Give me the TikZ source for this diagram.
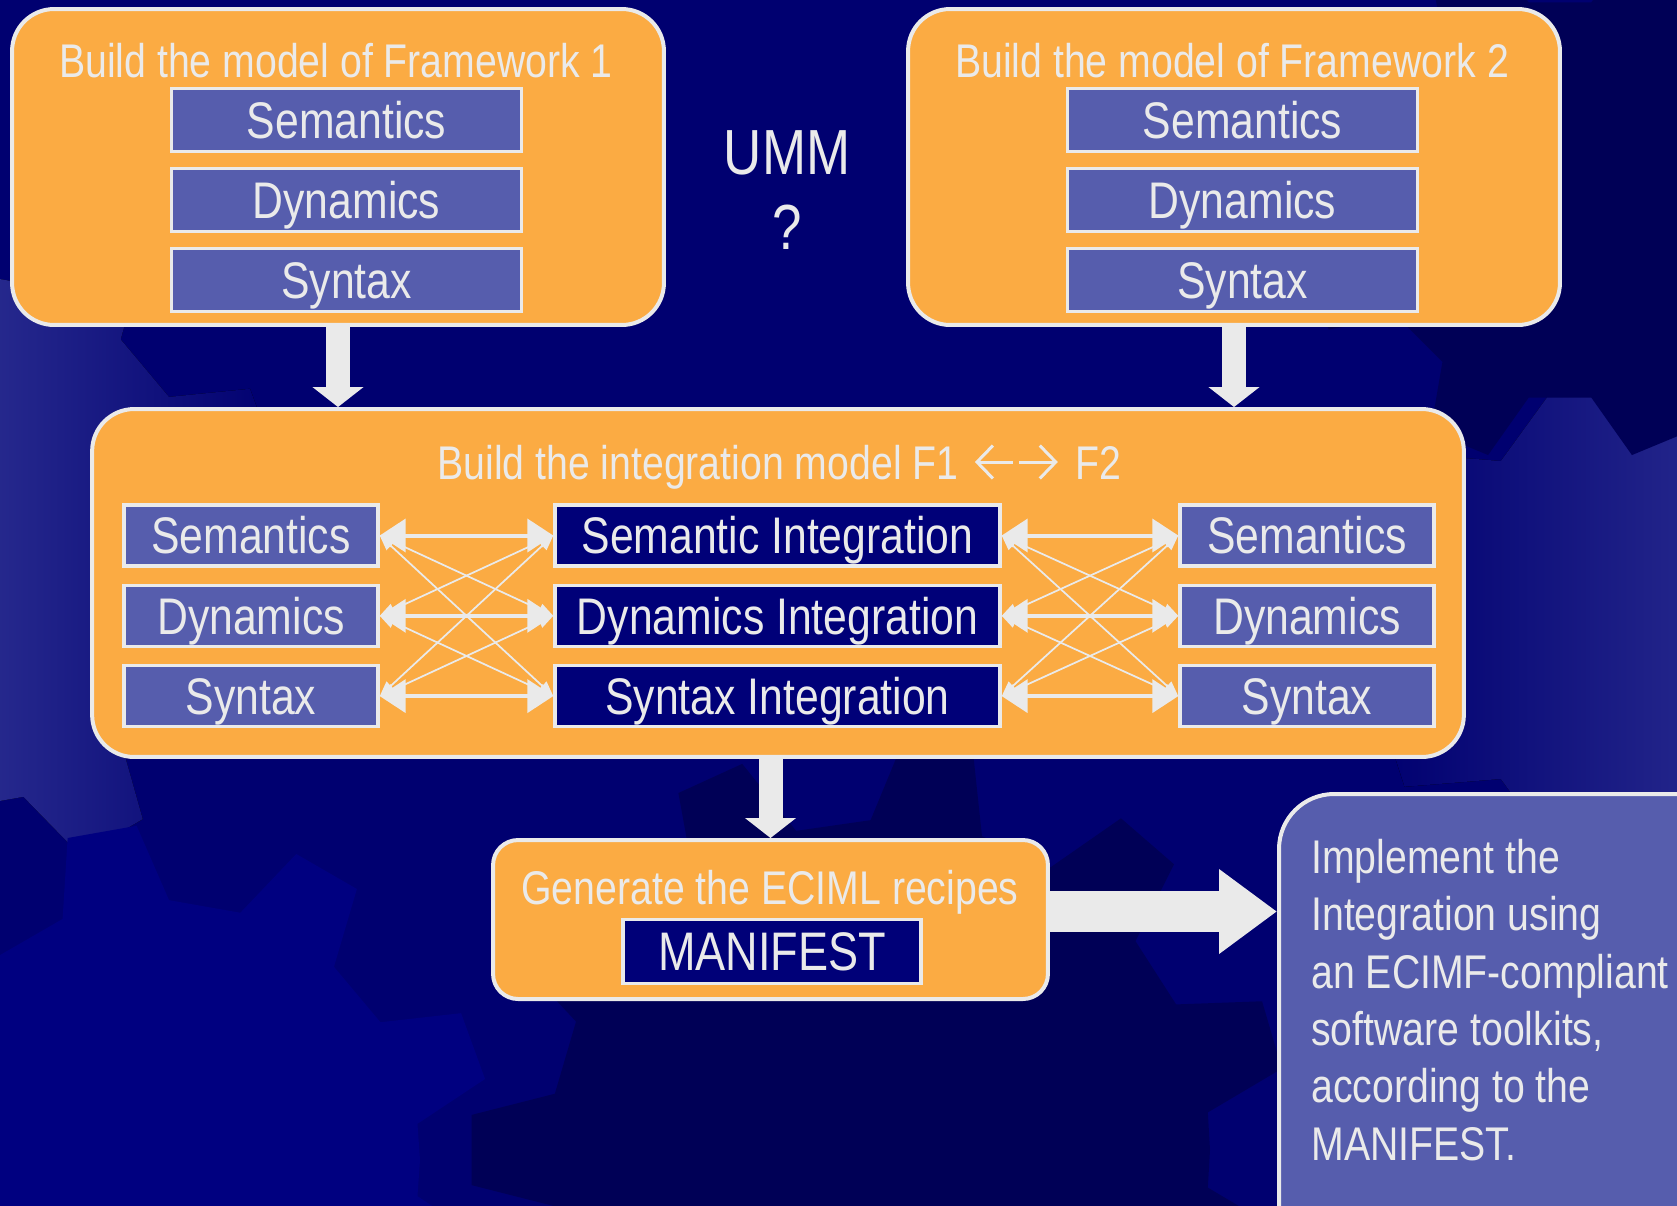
\documentclass[tikz,border=0pt]{standalone}
\usepackage{fontspec}
\setmainfont{Liberation Sans}[FakeStretch=0.83]
\usetikzlibrary{arrows.meta,calc}

\definecolor{navybg}{RGB}{0,0,112}
\definecolor{navydark}{RGB}{0,0,86}
\definecolor{navylite}{RGB}{0,0,128}
\definecolor{gearlite}{RGB}{92,98,182}
\definecolor{orangebox}{RGB}{251,171,67}
\definecolor{lilac}{RGB}{86,93,173}
\definecolor{navybox}{RGB}{0,0,120}
\definecolor{edge}{RGB}{234,234,234}

% gear outline: center, inner radius, outer radius, teeth, fill options
\newcommand{\cogwheel}[5]{%
  \pgfmathsetmacro\cogstep{360/#4}
  \fill[shift={(#1)},#5] (0:#2)
    \foreach \k in {1,...,#4}{
      -- ({(\k-0.8)*\cogstep}:#2) -- ({(\k-0.65)*\cogstep}:#3)
      -- ({(\k-0.35)*\cogstep}:#3) -- ({(\k-0.2)*\cogstep}:#2)
    } -- cycle;}

\begin{document}
\begin{tikzpicture}[x=0.02cm,y=-0.02cm,
  every node/.style={text=edge},
  stage/.style={draw=edge,line width=0.08cm,fill=orangebox,rounded corners=0.84cm,inner sep=0pt},
  slot/.style={draw=edge,line width=0.07cm,fill=lilac,inner sep=0pt,minimum height=1.22cm,
    text height=21pt,text depth=0pt,font=\fontsize{29.3}{30}\selectfont},
  heading/.style={font=\fontsize{26.9}{30}\selectfont,anchor=base,inner sep=0pt},
  feed/.style={draw=edge,line width=0.48cm,-{Triangle[length=0.4cm,width=1.0cm]}},
  hlink/.style={draw=edge,line width=0.08cm,{Triangle[length=0.52cm,width=0.66cm]}-{Triangle[length=0.52cm,width=0.66cm]}},
  xlink/.style={draw=edge,line width=0.035cm,{Triangle[length=0.3cm,width=0.24cm]}-{Triangle[length=0.3cm,width=0.24cm]}},
  glyph/.style={draw=edge,line width=0.06cm,-{Straight Barb[length=0.32cm,width=0.66cm]}}]

  \useasboundingbox (0,0) rectangle (1677,1205);
  \fill[navybg] (-20,-20) rectangle (1700,1230);
  % background gears
  \cogwheel{-60,540}{270}{345}{9}{left color=gearlite,right color=navybg}
  \cogwheel{1790,620}{330}{420}{10}{left color=navybg,right color=gearlite}
  \cogwheel{160,1160}{260}{335}{9}{navylite}
  \cogwheel{880,1150}{330}{410}{11}{navydark}
  \cogwheel{1560,200}{200}{265}{8}{navydark}

  % framework models
  \node[stage,minimum width=13.04cm,minimum height=6.32cm] (fw1) at (338,167) {};
  \node[heading] (fw1t) at (336,77) {Build the model of Framework 1};
  \node[stage,minimum width=13.04cm,minimum height=6.32cm] (fw2) at (1234,167) {};
  \node[heading] (fw2t) at (1232,77) {Build the model of Framework 2};
  \foreach \i/\t in {1/Semantics,2/Dynamics,3/Syntax}{
    \node[slot,minimum width=7cm,minimum height=1.26cm] (fa\i) at (346.5,{40+80*\i}) {\t};
    \node[slot,minimum width=7cm,minimum height=1.26cm] (fb\i) at (1242.5,{40+80*\i}) {\t};
  }

  \node[font=\fontsize{36.3}{43}\selectfont,align=center,anchor=north,inner sep=0pt] (umm) at (787,130) {UMM\\?};

  % integration model
  \node[stage,minimum width=27.44cm,minimum height=6.96cm] (intg) at (778,583) {};
  \node[heading,anchor=base west] (intgt) at (437,479) {Build the integration model F1};
  \node[heading,anchor=base west] (intgf) at ($(intgt.base east)+(116,0)$) {F2};
  \draw[glyph] ($(intgt.base east)+(54,-17)$) -- ($(intgt.base east)+(16,-17)$);
  \draw[glyph] ($(intgf.base west)+(-56,-17)$) -- ($(intgf.base west)+(-17,-17)$);
  \foreach \i/\t/\u in {1/Semantics/Semantic,2/Dynamics/Dynamics,3/Syntax/Syntax}{
    \node[slot,minimum width=5.08cm] (l\i) at (251,{455.2+80.3*\i}) {\t};
    \node[slot,fill=navybox,minimum width=8.9cm] (m\i) at (777.5,{455.2+80.3*\i}) {\u\ Integration};
    \node[slot,minimum width=5.08cm] (r\i) at (1307,{455.2+80.3*\i}) {\t};
  }
  \foreach \i/\j in {1/2,1/3,2/1,2/3,3/1,3/2}{
    \draw[xlink] (l\i.east) -- (m\j.west);
    \draw[xlink] (m\i.east) -- (r\j.west);
  }
  \foreach \i in {1,2,3}{
    \draw[hlink] (l\i.east) -- (m\i.west);
    \draw[hlink] (m\i.east) -- (r\i.west);
  }

  % recipes
  \node[stage,rounded corners=0.5cm,minimum width=11.1cm,minimum height=3.18cm] (gen) at (770.5,919.5) {};
  \node[heading] (gent) at (770,904) {Generate the ECIML recipes};
  \node[slot,fill=navybox,minimum width=5.96cm,minimum height=1.28cm,text height=22.1pt,
    font=\fontsize{30.9}{32}\selectfont] (mani) at (772,951.5) {MANIFEST};

  \node[draw=edge,line width=0.08cm,fill=lilac,rounded corners=1.1cm,anchor=north west,
    minimum width=9.5cm,minimum height=9.6cm] (impl) at (1277,792) {};
  \node[anchor=north west,align=left,inner sep=0pt,font=\fontsize{26.9}{32.6}\selectfont] (implt)
    at (1311,839) {Implement the\\Integration using\\an ECIMF-compliant\\software toolkits,\\according to the\\MANIFEST.};

  \draw[feed] (fw1.south) -- (fw1.south |- intg.north);
  \draw[feed] (fw2.south) -- (fw2.south |- intg.north);
  \draw[feed] (intg.south -| gen.north) -- (gen.north);
  \coordinate (gout) at ([yshift=0.16cm]gen.east);
  \draw[draw=edge,line width=0.82cm,-{Triangle[length=1.16cm,width=1.62cm]}] (gout) -- (gout -| impl.west);
\end{tikzpicture}
\end{document}
